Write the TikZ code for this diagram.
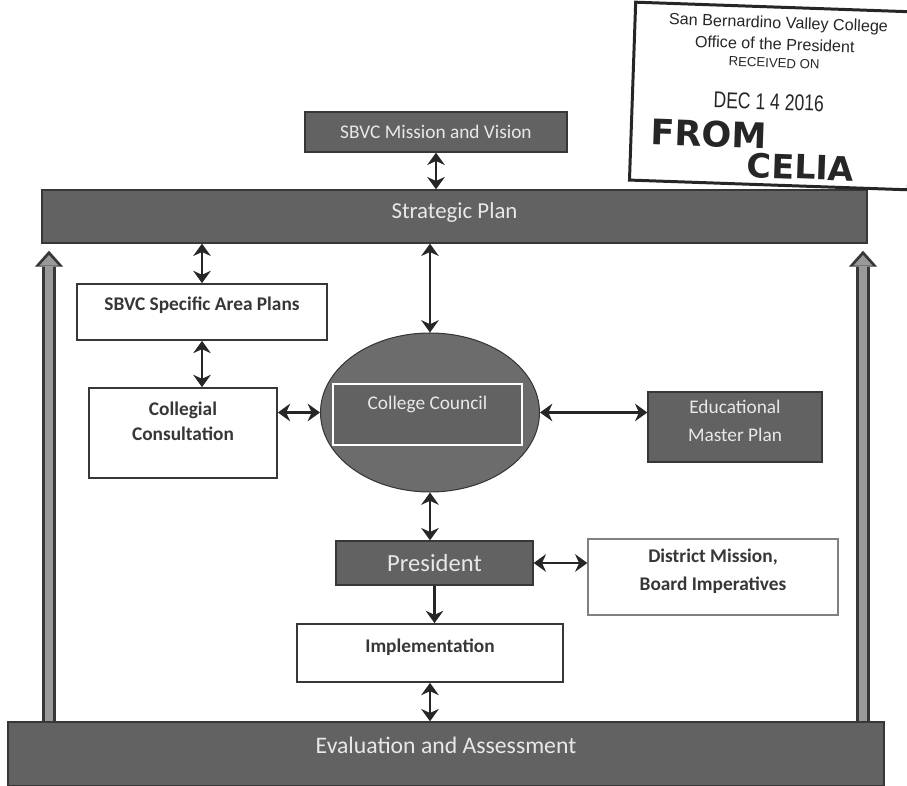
\documentclass[tikz,border=0pt]{standalone}
\usepackage{fontspec}
\setmainfont{Carlito}
\newfontfamily\stampfont{Liberation Sans}
\newfontfamily\handfont{DejaVu Sans}
\usetikzlibrary{positioning, calc, arrows.meta, shapes.geometric}

\begin{document}
\begin{tikzpicture}[
    x=0.02cm, y=-0.02cm,
    graybox/.style={rectangle, draw=inkgray, fill=boxgray, text=paletext, inner sep=0pt, align=center, line width=0.8pt},
    whitebox/.style={rectangle, draw=inkgray, fill=white, text=inkgray, inner sep=0pt, align=center, line width=1pt},
    textup/.style={text depth=#1},
    twoway/.style={{Stealth[length=7pt,width=10pt]}-{Stealth[length=7pt,width=10pt]}, line width=1.4pt, draw=black!85},
    oneway/.style={-{Stealth[length=7pt,width=10pt]}, line width=1.4pt, draw=black!85},
    fatarrow/.style={line width=7.5pt, draw=inkgray, shorten >=4pt, -{Triangle[length=9pt,width=16pt,line width=0pt]}},
    fatcore/.style={line width=4.5pt, draw=gray!80, shorten >=6.5pt, -{Triangle[length=6pt,width=11pt,line width=0pt]}},
    stamp text/.style={font=\stampfont, text=black!85, inner sep=0pt}
]

% Colours
\definecolor{boxgray}{RGB}{98,98,98}
\definecolor{ovalgray}{RGB}{108,108,108}
\definecolor{inkgray}{RGB}{55,55,55}
\definecolor{paletext}{RGB}{232,232,232}

\useasboundingbox (0,0) rectangle (907,786);

% --- Top: mission and strategic plan ---
\node[graybox, minimum width=5.24cm, minimum height=0.8cm, font=\fontsize{11}{13}\selectfont] (mission) at (436,132) {SBVC Mission and Vision};
\node[graybox, minimum width=16.5cm, minimum height=1.06cm, textup=7pt, font=\fontsize{13}{15}\selectfont] (strat) at (454.5,216.5) {Strategic Plan};

% --- Left column ---
\node[whitebox, minimum width=5cm, minimum height=1.12cm, textup=10pt, font=\fontsize{11}{13}\selectfont\bfseries] (areaplans) at (202,312) {SBVC Specific Area Plans};
\node[whitebox, minimum width=3.76cm, minimum height=1.8cm, textup=13.5pt, font=\fontsize{11}{14.7}\selectfont\bfseries] (collegial) at (183,433) {Collegial\\Consultation};

% --- Centre: council, president, implementation ---
\node[ellipse, draw=inkgray, fill=ovalgray, line width=0.6pt, minimum width=4.38cm, minimum height=3.18cm] (council) at (430,412.5) {};
\node[rectangle, draw=white, fill=boxgray, line width=1.6pt, text=paletext, minimum width=3.78cm, minimum height=1.22cm, textup=12.8pt, font=\fontsize{11}{13}\selectfont] (councilbox) at (427.5,414.5) {College Council};
\node[graybox, minimum width=3.94cm, minimum height=0.88cm, font=\fontsize{14}{16}\selectfont] (president) at (434.5,563) {President};
\node[whitebox, minimum width=5.32cm, minimum height=1.16cm, textup=8.8pt, font=\fontsize{11}{13}\selectfont\bfseries] (implement) at (430,653) {Implementation};

% --- Right column ---
\node[graybox, minimum width=3.48cm, minimum height=1.4cm, textup=7pt, font=\fontsize{11}{16.4}\selectfont] (edplan) at (735,427) {Educational\\Master Plan};
\node[whitebox, draw=black!50, line width=0.7pt, minimum width=5cm, minimum height=1.52cm, textup=8.8pt, font=\fontsize{11}{15.9}\selectfont\bfseries] (district) at (713,577) {District Mission,\\Board Imperatives};

% --- Bottom bar ---
\node[graybox, minimum width=17.52cm, minimum height=1.28cm, textup=10pt, font=\fontsize{13.5}{15}\selectfont] (evalbar) at (446,754) {Evaluation and Assessment};

% --- Connectors ---
\draw[twoway] (mission.south) -- (mission.south |- strat.north);
\draw[twoway] (areaplans.north |- strat.south) -- (areaplans.north);
\draw[twoway] (areaplans.south) -- (areaplans.south |- collegial.north);
\draw[twoway] (collegial.east |- council.west) -- (council.west);
\draw[twoway] (council.north |- strat.south) -- (council.north);
\draw[twoway] (council.east) -- (council.east -| edplan.west);
\draw[twoway] (council.south) -- (council.south |- president.north);
\draw[twoway] (president.east) -- (president.east -| district.west);
\draw[oneway] (president.south) -- (president.south |- implement.north);
\draw[twoway] (implement.south) -- (implement.south |- evalbar.north);

% Feedback rails
\coordinate (leftrail) at (49,0);
\coordinate (rightrail) at (863,0);
\foreach \rail in {leftrail, rightrail} {
    \draw[fatarrow] (evalbar.north -| \rail) -- (strat.south -| \rail);
    \draw[fatcore] (evalbar.north -| \rail) -- (strat.south -| \rail);
}

% --- Received stamp ---
\begin{scope}[rotate around={-2:(772,96)}, transform shape]
    \draw[line width=1.7pt, draw=black!85] (632.5,7) rectangle (911.5,185);
    \node[stamp text, font=\stampfont\fontsize{9.2}{10}\selectfont] (stampname) at (776,24) {San Bernardino Valley College};
    \node[stamp text, font=\stampfont\fontsize{9.2}{10}\selectfont] (stampoffice) at (773,44) {Office of the President};
    \node[stamp text, font=\stampfont\fontsize{7.5}{8}\selectfont] (stampreceived) at (773,63) {RECEIVED ON};
    \node[stamp text, font=\stampfont\fontsize{13}{14}\selectfont, xscale=0.77] (stampdate) at (769,102) {DEC 1 4 2016};
    \node[stamp text, font=\handfont\bfseries\fontsize{20}{22}\selectfont] (handfrom) at (710,136) {FROM};
    \node[stamp text, font=\handfont\bfseries\fontsize{19}{22}\selectfont] (handname) at (803,166) {CELIA};
\end{scope}

\end{tikzpicture}
\end{document}
